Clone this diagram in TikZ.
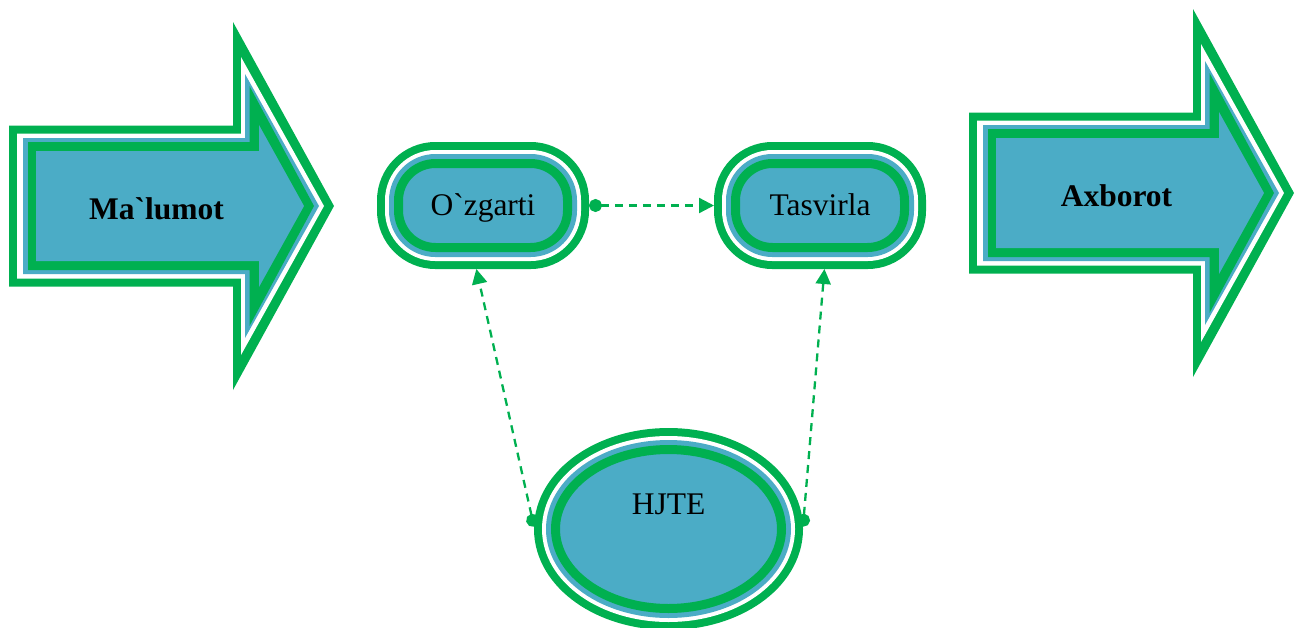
\documentclass[tikz,border=0pt]{standalone}
\usepackage{fontspec}
\setmainfont{Liberation Serif}[Ligatures=TeXOff]
\usetikzlibrary{shapes.geometric, arrows.meta}

\definecolor{grn}{RGB}{0,176,80}
\definecolor{aqua}{RGB}{75,172,198}

\begin{document}
\begin{tikzpicture}[
  x=1pt, y=-1pt,
  layered/.style={
     draw=grn,
     line width=9pt,
     fill=aqua,
     inner sep=0pt,
     outer sep=21.5pt,
     font=\fontsize{31.5}{36}\selectfont,
     preaction={draw=grn, line width=43pt},
     preaction={draw=white, line width=27pt},
     preaction={draw=aqua, line width=19pt}},
  stadium/.style={
     layered,
     rectangle,
     rounded corners=37pt,
     minimum width=169pt,
     minimum height=84pt,
     text height=20pt,
     text depth=0pt},
  oval/.style={
     layered,
     ellipse,
     minimum width=226pt,
     minimum height=159pt,
     text height=0pt,
     text depth=30pt},
  arrowtext/.style={font=\fontsize{31.5}{36}\selectfont\bfseries, text height=20pt, text depth=0pt},
  link/.style={grn, line width=2.3pt, dash pattern=on 8pt off 6pt,
     {Circle[length=13pt]}-{Triangle[length=15pt,width=15pt]}}
  ]
  \useasboundingbox (0,0) rectangle (1301,627);

  % big arrows, drawn layer by layer
  \foreach \dx/\cy/\name/\txt in {0/206/malumot/Ma`lumot, 960/193/axborot/Axborot}{
    \begin{scope}[shift={(\dx,\cy)}]
      \foreach \col/\lx/\bx/\tx/\sh/\hh in {grn/9/233/334/80.5/184, white/17/241/324/72.5/149,
          aqua/23/245/319/68/132, grn/28/249.5/314/64/120, aqua/36/259/304/55/81}
        \fill[\col] (\lx,-\sh) -- (\bx,-\sh) -- (\bx,-\hh) -- (\tx,0) -- (\bx,\hh) -- (\bx,\sh)
          -- (\lx,\sh) -- cycle;
      \node[arrowtext] (\name) at (156.5,3) {\txt};
    \end{scope}
  }

  % process nodes
  \node[stadium] (ozgarti)  at (483,205.5) {O`zgarti};
  \node[stadium] (tasvirla) at (820,205.5) {Tasvirla};
  \node[oval]    (hjte)     at (668.5,529) {HJTE};

  % links
  \draw[link] (ozgarti) -- (tasvirla);
  \draw[link] (hjte.179) -- (ozgarti.264);
  \draw[link] (hjte.1) -- (tasvirla.274);

\end{tikzpicture}
\end{document}
